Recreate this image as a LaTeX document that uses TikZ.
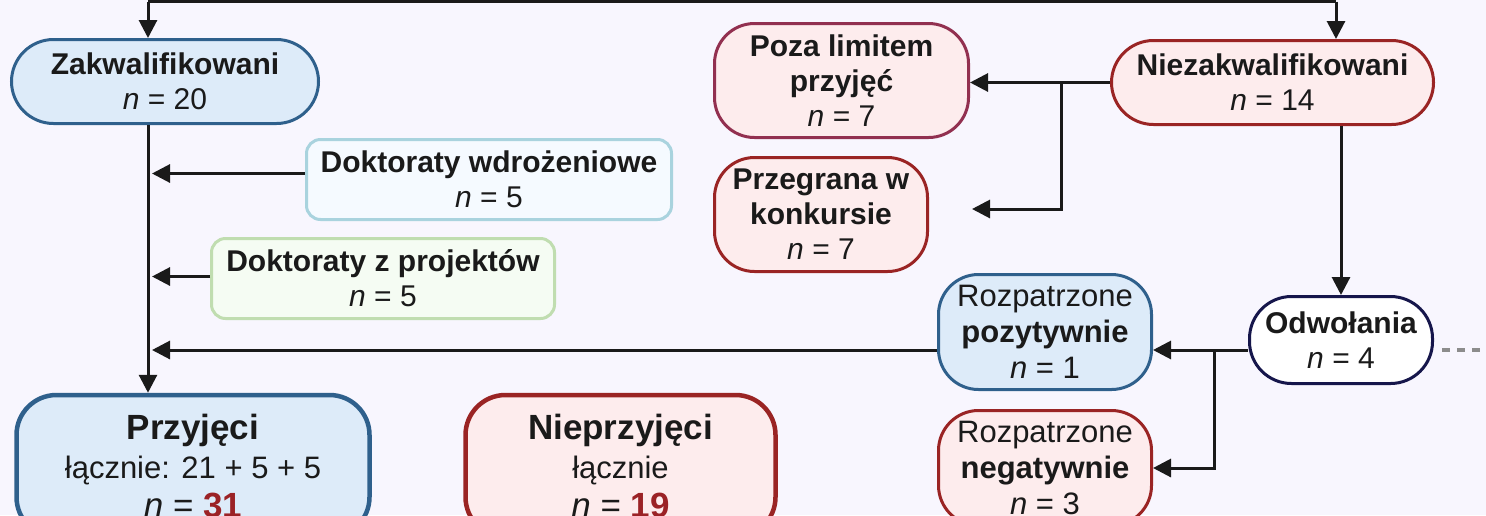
\documentclass[tikz,border=0pt]{standalone}
\usepackage{fontspec}
\setmainfont{Liberation Sans}
\usetikzlibrary{arrows.meta,positioning}

\definecolor{bgcol}{RGB}{248,246,254}
\definecolor{lineblk}{RGB}{26,26,26}
\definecolor{blueline}{RGB}{47,96,140}
\definecolor{bluefill}{RGB}{221,235,249}
\definecolor{redline}{RGB}{154,36,36}
\definecolor{redfill}{RGB}{253,236,237}
\definecolor{plumline}{RGB}{146,48,80}
\definecolor{tealline}{RGB}{169,211,222}
\definecolor{tealfill}{RGB}{245,250,255}
\definecolor{greenline}{RGB}{192,221,176}
\definecolor{greenfill}{RGB}{245,252,243}
\definecolor{navyline}{RGB}{22,22,75}
\definecolor{numred}{RGB}{155,34,38}
\definecolor{dashgray}{RGB}{140,140,140}

\newcommand{\nval}[1]{\textit{n} = #1}

\begin{document}
\begin{tikzpicture} [x=0.5pt,y=-0.5pt,->,>={Triangle[length=9pt,width=9pt]},line width=1.5pt,color=lineblk]
  \tikzstyle{flowbox}=[draw,align=center,inner sep=0pt,line width=1.5pt,font=\fontsize{15}{17.5}\selectfont]
  \tikzstyle{pill}=[flowbox,rounded corners=21pt]
  \tikzstyle{roundbox}=[flowbox,rounded corners=20pt]
  \tikzstyle{softbox}=[flowbox,rounded corners=7pt]
  \tikzstyle{totalbox}=[flowbox,rounded corners=20pt,line width=2.25pt,font=\fontsize{17.5}{19.5}\selectfont]

  \path[-,fill=bgcol,use as bounding box] (0,0) rectangle (1486,515);
  \clip (0,0) rectangle (1486,515);

  % left column
  \node[pill,fill=bluefill,draw=blueline,minimum width=153.5pt,minimum height=42pt]
        (zak) at (165,81.5) {\textbf{Zakwalifikowani}\\\nval{20}};
  \node[softbox,fill=tealfill,draw=tealline,minimum width=182.5pt,minimum height=40pt]
        (dw) at (489,179.5) {\textbf{Doktoraty wdrożeniowe}\\\nval{5}};
  \node[softbox,fill=greenfill,draw=greenline,minimum width=171.5pt,minimum height=40pt]
        (dp) at (383,278.5) {\textbf{Doktoraty z projektów}\\\nval{5}};
  \node[totalbox,fill=bluefill,draw=blueline,minimum width=176.5pt,minimum height=71pt]
        (przyj) at (193,466) {\textbf{Przyjęci}\\{\fontsize{15.5}{19.5}\selectfont łącznie: 21 + 5 + 5}\\\textit{n} = \textcolor{numred}{\textbf{31}}};
  \node[totalbox,fill=redfill,draw=redline,minimum width=155pt,minimum height=71pt]
        (nieprz) at (620.5,466) {\textbf{Nieprzyjęci}\\{\fontsize{15.5}{19.5}\selectfont łącznie}\\\textit{n} = \textcolor{numred}{\textbf{19}}};

  % right column
  \node[roundbox,fill=redfill,draw=plumline,minimum width=127pt,minimum height=57pt]
        (poza) at (841.5,80.5) {\textbf{Poza limitem}\\\textbf{przyjęć}\\\nval{7}};
  \node[roundbox,fill=redfill,draw=redline,minimum width=106.5pt,minimum height=57pt]
        (przeg) [below=8.5pt of poza.south west,anchor=north west] {\textbf{Przegrana w}\\\textbf{konkursie}\\\nval{7}};
  \node[pill,fill=redfill,draw=redline,minimum width=161pt,minimum height=42pt]
        (niezak) at (1272.5,82.5) {\textbf{Niezakwalifikowani}\\\nval{14}};
  \node[pill,fill=white,draw=navyline,minimum width=91.5pt,minimum height=43.5pt]
        (odw) at (1341,340) {\textbf{Odwołania}\\\nval{4}};
  \node[roundbox,fill=bluefill,draw=blueline,minimum width=106.5pt,minimum height=57.5pt,font=\fontsize{15.5}{18}\selectfont]
        (rpoz) at (1045,332) {Rozpatrzone\\\textbf{pozytywnie}\\\nval{1}};
  \node[roundbox,fill=redfill,draw=redline,minimum width=106.5pt,minimum height=57.5pt,font=\fontsize{15.5}{18}\selectfont]
        (rneg) [below=9pt of rpoz.south west,anchor=north west] {Rozpatrzone\\\textbf{negatywnie}\\\nval{3}};

  \coordinate (topL) at (148,1.5);
  \coordinate (topR) at (1336,1.5);
  \coordinate (brA) at (1061,82.5);
  \coordinate (przEnd) at (972,209);
  \coordinate (brB) at (1214,350);
  \coordinate (dashEnd) at (1500,350);

  \draw[-] (topL) -- (topR);
  \draw (topL) -- (topL |- zak.north);
  \draw (topR) -- (topR |- niezak.north);
  \draw (zak.south -| topL) -- (topL |- przyj.north);
  \draw[shorten >=2pt] ([yshift=3pt]dw.west) -- ([yshift=3pt]dw.west -| topL);
  \draw[shorten >=2pt] ([yshift=1pt]dp.west) -- ([yshift=1pt]dp.west -| topL);
  \draw[shorten >=2pt] ([yshift=-9pt]rpoz.west) -- ([yshift=-9pt]rpoz.west -| topL);

  \draw (niezak.west) -- (niezak.west -| poza.east);
  \draw (brA) |- (przEnd);
  \draw (niezak.south -| odw.north) -- (odw.north);
  \draw ([yshift=-5pt]odw.west) -- ([yshift=-5pt]odw.west -| rpoz.east);
  \draw (brB) |- (rneg.east);
  \draw[-,dashgray,line width=1.75pt,dash pattern=on 4pt off 3.5pt] ([xshift=4pt,yshift=-5pt]odw.east) -- (dashEnd);
\end{tikzpicture}
\end{document}
